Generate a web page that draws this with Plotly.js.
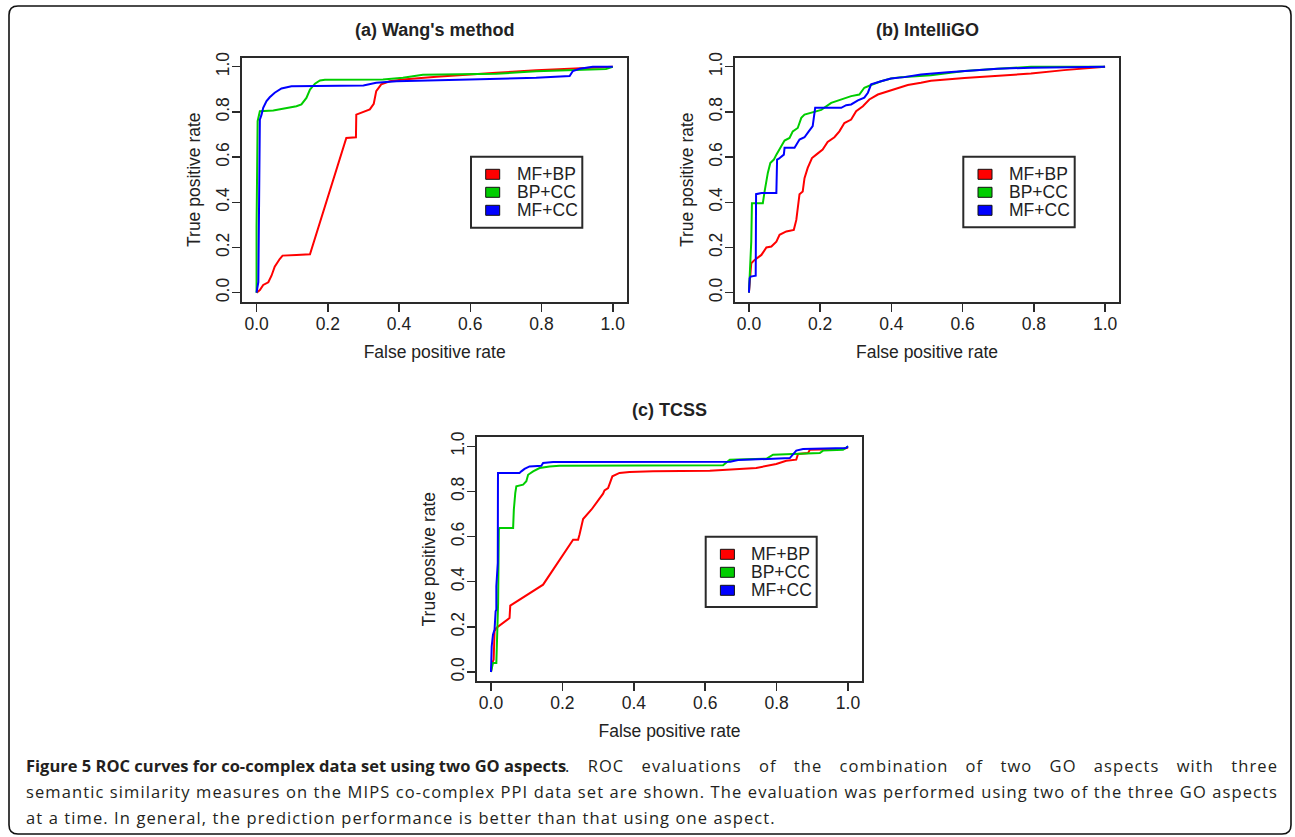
<!DOCTYPE html>
<html>
<head>
<meta charset="utf-8">
<script src="https://cdn.plot.ly/plotly-3.0.1.min.js"></script>
<style>html,body{margin:0;padding:0;background:#fff}#chart{width:1295px;height:837px}</style>
</head>
<body>
<div id="chart"></div>
<script>
// ---------- DATA ----------
const seriesNames = ["MF+BP", "BP+CC", "MF+CC"];
const seriesColors = ["#ff0000", "#00cd00", "#0000ff"];
const panelTitles = ["(a) Wang's method", "(b) IntelliGO", "(c) TCSS"];
const tickVals = [0, 0.2, 0.4, 0.6, 0.8, 1.0];
const tickLabels = ["0.0", "0.2", "0.4", "0.6", "0.8", "1.0"];
const xTitle = "False positive rate";
const yTitle = "True positive rate";

// (a) Wang's method
const wangMFBP_x = [0, 0.0093, 0.0187, 0.033, 0.042, 0.051, 0.065, 0.073, 0.112, 0.150, 0.252, 0.279, 0.280, 0.299, 0.318, 0.329, 0.336, 0.350, 0.364, 0.374, 0.411, 0.505, 0.673, 0.785, 0.879, 0.944, 1.0];
const wangMFBP_y = [0, 0.012, 0.034, 0.046, 0.075, 0.115, 0.149, 0.164, 0.167, 0.170, 0.685, 0.688, 0.788, 0.800, 0.811, 0.836, 0.892, 0.922, 0.932, 0.936, 0.944, 0.956, 0.973, 0.985, 0.991, 0.996, 1.0];
const wangBPCC_x = [0, 0.0, 0.003, 0.0093, 0.047, 0.093, 0.112, 0.126, 0.140, 0.150, 0.164, 0.178, 0.192, 0.355, 0.411, 0.467, 0.673, 0.785, 0.925, 0.981, 1.0];
const wangBPCC_y = [0, 0.293, 0.759, 0.803, 0.806, 0.818, 0.825, 0.833, 0.862, 0.899, 0.925, 0.939, 0.942, 0.944, 0.951, 0.964, 0.969, 0.980, 0.987, 0.990, 1.0];
const wangMFCC_x = [0, 0.005, 0.0075, 0.0093, 0.014, 0.0187, 0.028, 0.037, 0.051, 0.070, 0.098, 0.300, 0.336, 0.393, 0.598, 0.785, 0.879, 0.888, 0.907, 0.944, 1.0];
const wangMFCC_y = [0, 0.047, 0.462, 0.766, 0.788, 0.818, 0.848, 0.865, 0.885, 0.904, 0.914, 0.917, 0.929, 0.936, 0.944, 0.951, 0.959, 0.981, 0.991, 1.0, 1.0];

// (b) IntelliGO
const intelMFBP_x = [0, 0.0065, 0.016, 0.035, 0.049, 0.063, 0.077, 0.086, 0.105, 0.126, 0.133, 0.142, 0.151, 0.156, 0.165, 0.177, 0.189, 0.207, 0.221, 0.240, 0.254, 0.268, 0.287, 0.301, 0.320, 0.338, 0.362, 0.390, 0.418, 0.446, 0.483, 0.511, 0.605, 0.698, 0.792, 0.885, 1.0];
const intelMFBP_y = [0, 0.130, 0.145, 0.167, 0.200, 0.204, 0.226, 0.256, 0.271, 0.278, 0.322, 0.436, 0.448, 0.507, 0.552, 0.596, 0.611, 0.633, 0.667, 0.688, 0.714, 0.751, 0.766, 0.803, 0.825, 0.855, 0.877, 0.892, 0.907, 0.919, 0.929, 0.938, 0.950, 0.961, 0.970, 0.985, 1.0];
const intelBPCC_x = [0, 0.002, 0.004, 0.0065, 0.0084, 0.039, 0.044, 0.053, 0.060, 0.070, 0.077, 0.091, 0.100, 0.114, 0.123, 0.137, 0.147, 0.156, 0.180, 0.203, 0.231, 0.259, 0.287, 0.310, 0.324, 0.343, 0.371, 0.399, 0.427, 0.511, 0.605, 0.698, 0.792, 1.0];
const intelBPCC_y = [0, 0.078, 0.204, 0.226, 0.396, 0.396, 0.448, 0.530, 0.574, 0.589, 0.611, 0.652, 0.673, 0.685, 0.714, 0.729, 0.774, 0.788, 0.800, 0.809, 0.840, 0.855, 0.870, 0.877, 0.907, 0.919, 0.936, 0.948, 0.954, 0.962, 0.981, 0.991, 1.0, 1.0];
const intelMFCC_x = [0, 0.002, 0.0047, 0.019, 0.020, 0.035, 0.077, 0.079, 0.084, 0.098, 0.100, 0.128, 0.142, 0.156, 0.167, 0.179, 0.186, 0.259, 0.273, 0.287, 0.306, 0.324, 0.334, 0.343, 0.371, 0.399, 0.436, 0.483, 0.558, 0.605, 0.698, 0.792, 0.932, 1.0];
const intelMFCC_y = [0, 0.064, 0.071, 0.075, 0.436, 0.441, 0.441, 0.589, 0.593, 0.611, 0.641, 0.641, 0.678, 0.688, 0.712, 0.737, 0.818, 0.818, 0.830, 0.833, 0.851, 0.863, 0.885, 0.922, 0.936, 0.948, 0.954, 0.966, 0.976, 0.982, 0.991, 0.996, 1.0, 1.0];

// (c) TCSS
const tcssMFBP_x = [0, 0.0037, 0.0075, 0.010, 0.015, 0.052, 0.054, 0.146, 0.230, 0.244, 0.248, 0.258, 0.281, 0.314, 0.318, 0.328, 0.340, 0.360, 0.388, 0.454, 0.613, 0.669, 0.687, 0.743, 0.799, 0.827, 0.855, 0.860, 0.888, 0.893, 0.986, 1.0];
const tcssMFBP_y = [0, 0.040, 0.055, 0.180, 0.195, 0.239, 0.294, 0.387, 0.586, 0.586, 0.609, 0.678, 0.719, 0.790, 0.805, 0.815, 0.867, 0.882, 0.886, 0.889, 0.892, 0.897, 0.901, 0.904, 0.922, 0.936, 0.941, 0.966, 0.970, 0.985, 0.988, 0.995];
const tcssBPCC_x = [0, 0.0056, 0.015, 0.017, 0.020, 0.022, 0.024, 0.062, 0.064, 0.068, 0.071, 0.090, 0.099, 0.104, 0.118, 0.136, 0.164, 0.192, 0.650, 0.669, 0.771, 0.790, 0.846, 0.921, 0.930, 0.986, 1.0];
const tcssBPCC_y = [0, 0.040, 0.040, 0.129, 0.306, 0.631, 0.638, 0.638, 0.719, 0.793, 0.823, 0.830, 0.845, 0.874, 0.889, 0.904, 0.911, 0.914, 0.916, 0.941, 0.945, 0.963, 0.966, 0.970, 0.981, 0.985, 1.0];
const tcssMFCC_x = [0, 0.002, 0.0056, 0.010, 0.013, 0.015, 0.015, 0.017, 0.019, 0.0196, 0.080, 0.085, 0.094, 0.108, 0.141, 0.146, 0.174, 0.670, 0.692, 0.837, 0.855, 0.874, 0.995, 1.0];
const tcssMFCC_y = [0, 0.114, 0.165, 0.188, 0.269, 0.276, 0.380, 0.453, 0.483, 0.882, 0.882, 0.889, 0.900, 0.911, 0.914, 0.926, 0.931, 0.932, 0.939, 0.948, 0.981, 0.988, 0.993, 1.0];

const captionBold = "Figure 5 ROC curves for co-complex data set using two GO aspects";
const captionLines = [
  ". ROC evaluations of the combination of two GO aspects with three",
  "semantic similarity measures on the MIPS co-complex PPI data set are shown. The evaluation was performed using two of the three GO aspects",
  "at a time. In general, the prediction performance is better than that using one aspect."
];

// ---------- LAYOUT GEOMETRY (pixels) ----------
const W = 1295, H = 837;
const px = v => v / W;
const py = v => 1 - v / H;

const panels = [
  {xs: [wangMFBP_x, wangBPCC_x, wangMFCC_x], ys: [wangMFBP_y, wangBPCC_y, wangMFCC_y],
   box: [242.3, 57.7, 627.0, 301.7], legend: [471, 156.7, 582.3, 227.7], titleY: 30},
  {xs: [intelMFBP_x, intelBPCC_x, intelMFCC_x], ys: [intelMFBP_y, intelBPCC_y, intelMFCC_y],
   box: [734.7, 57.7, 1119.3, 301.7], legend: [963.3, 156.7, 1074.7, 227.3], titleY: 30},
  {xs: [tcssMFBP_x, tcssBPCC_x, tcssMFCC_x], ys: [tcssMFBP_y, tcssBPCC_y, tcssMFCC_y],
   box: [476.7, 437.3, 862.3, 681.0], legend: [705.7, 536.7, 816.7, 607.0], titleY: 410}
];

const FONT = "Liberation Sans, Arial, sans-serif";
const AX = "#2a2a2a";
const traces = [];
const layout = {
  width: W, height: H,
  margin: {l: 0, r: 0, t: 0, b: 0},
  paper_bgcolor: "#ffffff", plot_bgcolor: "#ffffff",
  showlegend: false,
  font: {family: FONT, size: 17.5, color: "#222"},
  annotations: [], shapes: []
};

panels.forEach((p, i) => {
  const sfx = i === 0 ? "" : String(i + 1);
  const [l, t, r, b] = p.box;
  for (let k = 0; k < 3; k++) {
    traces.push({
      type: "scatter", mode: "lines",
      x: p.xs[k], y: p.ys[k],
      name: seriesNames[k],
      line: {color: seriesColors[k], width: 2},
      xaxis: "x" + sfx, yaxis: "y" + sfx,
      hoverinfo: "skip"
    });
  }
  const common = {
    range: [-0.04, 1.04], tickvals: tickVals, ticktext: tickLabels,
    ticks: "outside", ticklen: 8, tickwidth: 1.5, tickcolor: AX,
    showline: true, mirror: true, linewidth: 2, linecolor: AX,
    showgrid: false, zeroline: false, fixedrange: true,
    tickfont: {family: FONT, size: 17.5, color: "#222"}
  };
  layout["xaxis" + sfx] = Object.assign({}, common, {
    domain: [px(l), px(r)], anchor: "y" + sfx, ticklabelstandoff: -3,
    title: {text: xTitle, font: {family: FONT, size: 17.5, color: "#222"}, standoff: 13}
  });
  layout["yaxis" + sfx] = Object.assign({}, common, {
    domain: [py(b), py(t)], anchor: "x" + sfx, tickangle: -90, ticklabelstandoff: -4,
    title: {text: yTitle, font: {family: FONT, size: 17.5, color: "#222"}, standoff: 8}
  });
  layout.annotations.push({
    xref: "paper", yref: "paper", x: px((l + r) / 2), y: py(p.titleY),
    xanchor: "center", yanchor: "middle", showarrow: false,
    text: "<b>" + panelTitles[i] + "</b>",
    font: {family: FONT, size: 18, color: "#222"}
  });
  const [ll, lt, lr, lb] = p.legend;
  layout.shapes.push({type: "rect", xref: "paper", yref: "paper",
    x0: px(ll), x1: px(lr), y0: py(lb), y1: py(lt),
    line: {color: AX, width: 2}, fillcolor: "#ffffff"});
  for (let k = 0; k < 3; k++) {
    const cy = lt + 17.6 + 18 * k;
    layout.shapes.push({type: "rect", xref: "paper", yref: "paper",
      x0: px(ll + 14.7), x1: px(ll + 28.7), y0: py(cy + 5), y1: py(cy - 5),
      line: {color: "#111", width: 1}, fillcolor: seriesColors[k]});
    layout.annotations.push({
      xref: "paper", yref: "paper", x: px(ll + 43.5), y: py(cy),
      xanchor: "left", yanchor: "middle", showarrow: false,
      text: seriesNames[k], font: {family: FONT, size: 17.5, color: "#222"}
    });
  }
});

// caption
const CAP = "Open Sans, Noto Sans, sans-serif";
const capY = [765.5, 791.5, 817.5];
const capStart = layout.annotations.length;
const capRight = 1278;
layout.annotations.push({
  xref: "paper", yref: "paper", x: px(24), y: py(capY[0]),
  xanchor: "left", yanchor: "middle", showarrow: false, align: "left",
  text: "<b>" + captionBold + "</b>",
  font: {family: CAP, size: 16.5, color: "#231f20"}
});
const capLeft = [563, 24, 24];
layout.annotations.push({
  xref: "paper", yref: "paper", x: px(capLeft[0]), y: py(capY[0]),
  xanchor: "left", yanchor: "middle", showarrow: false, align: "left",
  text: captionLines[0],
  font: {family: CAP, size: 16.5, color: "#231f20"}
});
for (let j = 1; j < 3; j++) {
  layout.annotations.push({
    xref: "paper", yref: "paper", x: px(capLeft[j]), y: py(capY[j]),
    xanchor: "left", yanchor: "middle", showarrow: false, align: "left",
    text: captionLines[j],
    font: {family: CAP, size: 16.5, color: "#231f20"}
  });
}

// outer rounded frame
(function () {
  const x0 = 9, y0 = 6, x1 = 1291, y1 = 834, rr = 9;
  const P = (x, y) => px(x) + "," + py(y);
  const d = "M" + P(x0 + rr, y0) + " L" + P(x1 - rr, y0) + " Q" + P(x1, y0) + " " + P(x1, y0 + rr) +
    " L" + P(x1, y1 - rr) + " Q" + P(x1, y1) + " " + P(x1 - rr, y1) +
    " L" + P(x0 + rr, y1) + " Q" + P(x0, y1) + " " + P(x0, y1 - rr) +
    " L" + P(x0, y0 + rr) + " Q" + P(x0, y0) + " " + P(x0 + rr, y0) + " Z";
  layout.shapes.push({type: "path", xref: "paper", yref: "paper", path: d,
    line: {color: "#111", width: 1.6}, fillcolor: "rgba(0,0,0,0)", layer: "below"});
})();

Plotly.newPlot("chart", traces, layout, {displayModeBar: false, staticPlot: true}).then(gd => {
  // the original caption is set justified in a loosely spaced typeface
  gd.querySelectorAll(".annotation").forEach(g => {
    const idx = +g.getAttribute("data-index");
    const line = idx - capStart - 1;          // 0,1,2 for the regular caption runs
    if (line < 0 || line > 2) return;
    const t = g.querySelector("text");
    if (!t) return;
    t.style.letterSpacing = "1.1px";
    if (line < 2) {                            // justify the first two lines
      const w = t.getComputedTextLength();
      const spaces = (captionLines[line].match(/ /g) || []).length;
      const extra = (capRight - capLeft[line] - 2) - w;
      if (spaces > 0 && extra > 0) t.style.wordSpacing = (extra / spaces).toFixed(2) + "px";
    }
  });
});
</script>
</body>
</html>
